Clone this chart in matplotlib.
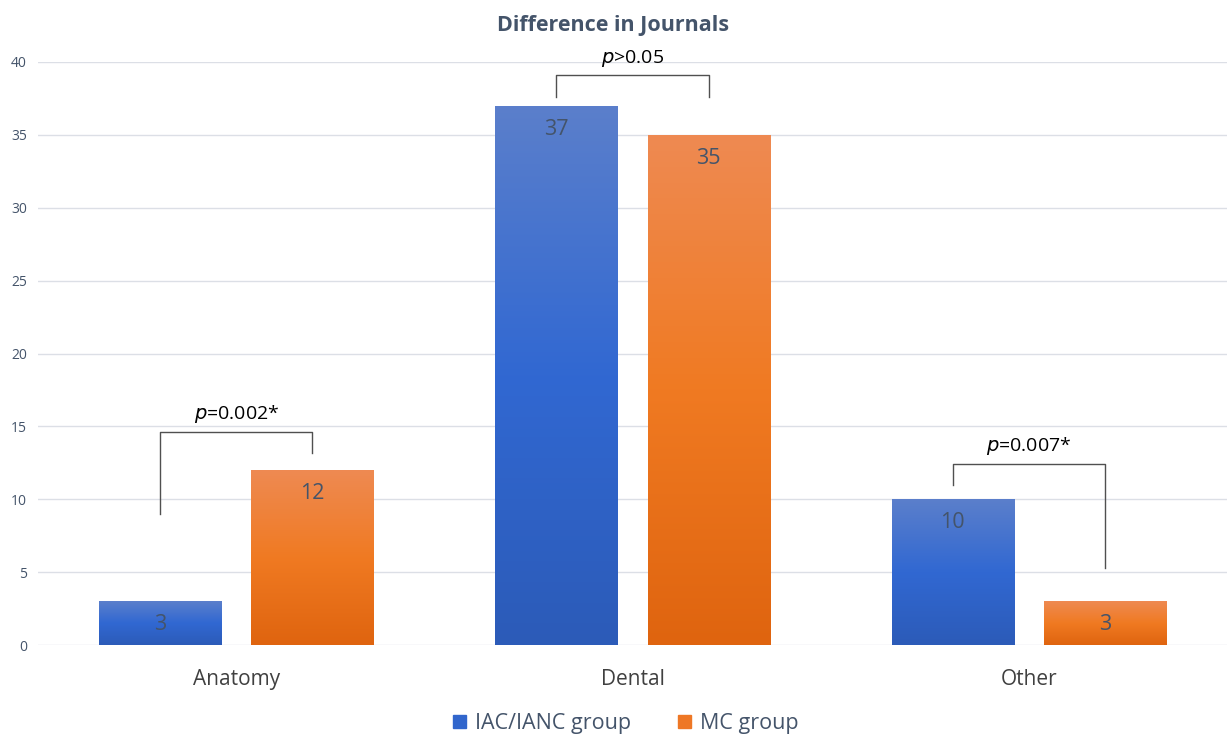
import numpy as np
import matplotlib.pyplot as plt
from matplotlib.colors import LinearSegmentedColormap

categories = ["Anatomy", "Dental", "Other"]
iac_ianc = [3, 37, 10]
mc = [12, 35, 3]
series_names = ["IAC/IANC group", "MC group"]
p_labels = ["=0.002*", ">0.05", "=0.007*"]

plt.rcParams['font.family'] = ['Open Sans', 'DejaVu Sans']
text_col = "#44546A"

blue_cmap = LinearSegmentedColormap.from_list("blue", ["#2C5BB8", "#3168D2", "#5B7FCB"])
orange_cmap = LinearSegmentedColormap.from_list("orange", ["#DF640F", "#F07A22", "#EE8A52"])

fig = plt.figure(figsize=(12.27, 7.38), dpi=100)
ax = fig.add_axes([0.031, 0.126, 0.969, 0.79])

x = np.arange(len(categories))
w = 0.308
off = 0.192

grad = np.linspace(0, 1, 256).reshape(-1, 1)


def gradient_bars(xpos, vals, cmap, label):
    bars = ax.bar(xpos, vals, w, color=cmap(0.5), label=label, zorder=2)
    for b in bars:
        b.set_facecolor("none")
        b.set_edgecolor("none")
        im = ax.imshow(grad, cmap=cmap, origin="lower", aspect="auto",
                       extent=[b.get_x(), b.get_x() + b.get_width(), 0, b.get_height()],
                       zorder=2)
        im.set_clip_path(b)
    return bars


b1 = gradient_bars(x - off, iac_ianc, blue_cmap, series_names[0])
b2 = gradient_bars(x + off, mc, orange_cmap, series_names[1])

for xs, vals in [(x - off, iac_ianc), (x + off, mc)]:
    for xi, v in zip(xs, vals):
        ax.annotate(str(v), (xi, v), xytext=(0, -17), textcoords="offset points",
                    ha="center", va="center", fontsize=15.5, color=text_col, zorder=3)

ax.set_xlim(-0.5, 2.5)
ax.set_ylim(0, 40)
ax.set_yticks(range(0, 41, 5))
ax.set_xticks(x)
ax.set_xticklabels(categories, fontsize=15, color="#404040")
ax.tick_params(axis="y", labelsize=10, colors=text_col, length=0, pad=8)
ax.tick_params(axis="x", length=0, pad=17)
ax.grid(axis="y", color="#DCDFE6", linewidth=1, zorder=0)
ax.set_axisbelow(True)
for s in ax.spines.values():
    s.set_visible(False)

# significance brackets: (group, left low, top, right low, text y)
brackets = [
    (0, 9.0, 14.6, 13.2, 15.1),
    (1, 37.6, 39.1, 37.6, 39.5),
    (2, 11.0, 12.4, 5.3, 12.9),
]
for (i, yl, yt, yr, ty), pl in zip(brackets, p_labels):
    xl, xr = x[i] - off, x[i] + off
    ax.plot([xl, xl, xr, xr], [yl, yt, yt, yr], color="#505050", linewidth=1, zorder=3)
    ax.text(x[i], ty, r"$\mathit{p}$" + pl, ha="center", va="bottom", fontsize=14,
            color="black", zorder=3)

fig.suptitle("Difference in Journals", y=0.98, fontsize=15.5, fontweight="bold", color=text_col)

handles = [plt.Rectangle((0, 0), 1, 1, color="#3166CC"), plt.Rectangle((0, 0), 1, 1, color="#EE7725")]
fig.legend(handles, series_names, loc="lower center", bbox_to_anchor=(0.51, -0.021), ncol=2,
           frameon=False, fontsize=15.5, handlelength=0.6, handleheight=0.6, handletextpad=0.4,
           columnspacing=2.2, labelcolor=text_col)

fig.savefig("out.png", dpi=100)
plt.close()
